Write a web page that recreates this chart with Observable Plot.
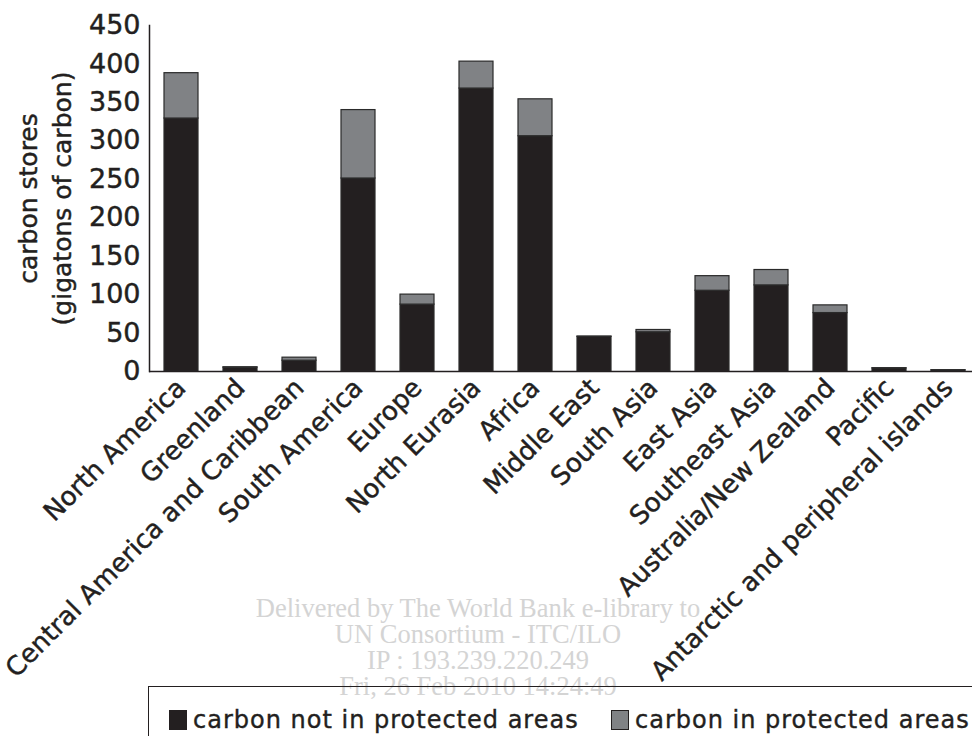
<!DOCTYPE html>
<html><head><meta charset="utf-8">
<script src="https://cdn.jsdelivr.net/npm/d3@7"></script>
<script src="https://cdn.jsdelivr.net/npm/@observablehq/plot@0.6"></script>
<style>
body{margin:0;background:#fff;overflow:hidden}
#wrap{position:relative;width:972px;height:736px;font-family:"DejaVu Sans",sans-serif;overflow:hidden}
#wrap svg{position:absolute;left:0;top:0;overflow:visible}
#wrap svg text{stroke:#231f20;stroke-width:0.45px;paint-order:stroke}
.wm{position:absolute;left:0;width:956px;text-align:center;font-family:"Liberation Serif",serif;font-size:26.5px;color:#d4d4d4;line-height:26px;top:595px;white-space:pre}
#legend{position:absolute;left:148px;top:686px;width:840px;height:70px;border:1.5px solid #231f20;box-sizing:border-box;font-size:24px;letter-spacing:1px;color:#231f20;-webkit-text-stroke:0.4px #231f20}
.item{position:absolute;top:19px;display:flex;align-items:center;gap:6px}
.sw{display:inline-block;width:18px;height:20px;border:1px solid #231f20;box-sizing:border-box}
</style></head>
<body><div id="wrap"></div>
<script>
const regions = ["North America","Greenland","Central America and Caribbean","South America","Europe","North Eurasia","Africa","Middle East","South Asia","East Asia","Southeast Asia","Australia/New Zealand","Pacific","Antarctic and peripheral islands"];
const notProtected = [329, 5, 14, 251, 87, 368, 306, 45, 51, 105, 112, 76, 4, 1.5];
const inProtected = [59, 0.5, 4, 89, 13, 35, 48, 0.5, 3, 19, 20, 10, 0.3, 0.2];
const seriesNames = ["carbon not in protected areas","carbon in protected areas"];
const seriesColors = ["#231f20","#808285"];
const yTicks = [0,50,100,150,200,250,300,350,400,450];

const data = [];
regions.forEach((r,i)=>{
  data.push({region:r, type:seriesNames[0], value:notProtected[i]});
  data.push({region:r, type:seriesNames[1], value:inProtected[i]});
});

const H = 686;
const chart = Plot.plot({
  width: 972, height: H,
  marginLeft: 149, marginRight: 0, marginTop: 25, marginBottom: H-371,
  style: {fontFamily: '"DejaVu Sans", sans-serif', color: "#231f20", background: "transparent"},
  x: {domain: regions, range: [150, 979], paddingInner: 0.42, paddingOuter: 0.22},
  y: {domain: [0, 450]},
  color: {domain: seriesNames, range: seriesColors},
  marks: [
    Plot.barY(data, {x:"region", y:"value", fill:"type", stroke:"#2a2a2a", strokeWidth:1.2}),
    Plot.ruleY([0], {stroke:"#231f20", strokeWidth:1.5}),
    Plot.frame({anchor:"left", stroke:"#231f20", strokeWidth:1.5}),
    Plot.axisY({ticks: yTicks, tickSize:0, tickPadding:9, fontSize:27, label:null}),
    Plot.axisX({tickSize:0, tickRotate:-45, tickPadding:12, fontSize:26, label:null}),
    Plot.text(["carbon stores"], {frameAnchor:"left", textAnchor:"middle", rotate:-90, dx:-121, fontSize:25, fill:"#231f20"}),
    Plot.text(["(gigatons of carbon)"], {frameAnchor:"left", textAnchor:"middle", rotate:-90, dx:-87, fontSize:25, fill:"#231f20"})
  ]
});
const wrap = document.getElementById("wrap");
wrap.appendChild(chart);

const wm = document.createElement("div");
wm.className = "wm";
wm.textContent = "Delivered by The World Bank e-library to\nUN Consortium - ITC/ILO\nIP : 193.239.220.249\nFri, 26 Feb 2010 14:24:49";
wrap.appendChild(wm);

const legend = document.createElement("div");
legend.id = "legend";
const lefts = [20, 462];
seriesNames.forEach((s,i)=>{
  const it = document.createElement("div");
  it.className = "item";
  it.style.left = lefts[i] + "px";
  const sw = document.createElement("span");
  sw.className = "sw"; sw.style.background = seriesColors[i];
  const t = document.createElement("span"); t.textContent = s;
  it.appendChild(sw); it.appendChild(t);
  legend.appendChild(it);
});
wrap.appendChild(legend);
</script>
</body></html>
